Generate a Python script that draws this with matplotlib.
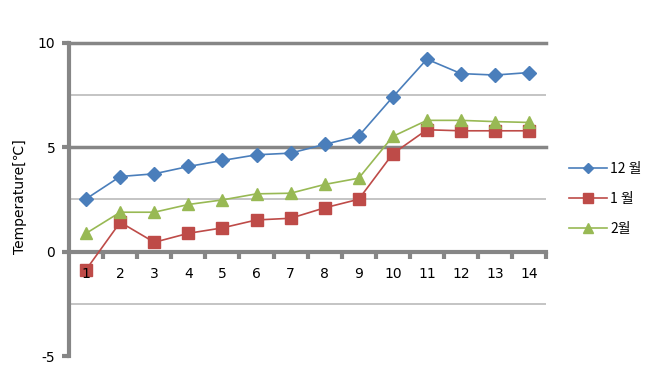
import matplotlib.pyplot as plt
from matplotlib.ticker import MultipleLocator, FixedLocator

plt.rcParams['font.family'] = ['DejaVu Sans', 'Noto Sans CJK KR']
plt.rcParams['axes.unicode_minus'] = False

# data
days = ['1', '2', '3', '4', '5', '6', '7', '8', '9', '10', '11', '12', '13', '14']
dec = [2.53, 3.6, 3.73, 4.08, 4.37, 4.64, 4.72, 5.14, 5.54, 7.41, 9.22, 8.53, 8.46, 8.58]
jan = [-0.86, 1.41, 0.45, 0.88, 1.14, 1.52, 1.6, 2.1, 2.51, 4.69, 5.84, 5.79, 5.79, 5.79]
feb = [0.88, 1.89, 1.89, 2.26, 2.48, 2.77, 2.8, 3.22, 3.52, 5.52, 6.29, 6.29, 6.23, 6.19]
labels = ['12 월', '1 월', '2월']

grey = '#868686'
fig = plt.figure(figsize=(6.58, 3.9), dpi=100)
ax = fig.add_axes([0.105, 0.087, 0.725, 0.803])

x = list(range(len(days)))

# gridlines first so the series sit on top
for v in [-2.5, 2.5, 7.5]:
    ax.axhline(v, color='#bfbfbf', lw=1.3, zorder=1)
for v in [5, 10]:
    ax.axhline(v, color=grey, lw=2.5, zorder=1, clip_on=False)

ax.plot(x, dec, color='#4a7ebb', marker='D', ms=7, lw=1.2, label=labels[0], zorder=3)
ax.plot(x, jan, color='#be4b48', marker='s', ms=9, lw=1.2, label=labels[1], zorder=3)
ax.plot(x, feb, color='#98b954', marker='^', ms=9, lw=1.2, label=labels[2], zorder=3)

ax.set_xlim(-0.5, len(days) - 0.5)
ax.set_ylim(-5, 10)

for s in ['top', 'right']:
    ax.spines[s].set_visible(False)
ax.spines['left'].set_color(grey)
ax.spines['left'].set_linewidth(3)
ax.spines['bottom'].set_position(('data', 0))
ax.spines['bottom'].set_color(grey)
ax.spines['bottom'].set_linewidth(3)
ax.spines['bottom'].set_zorder(2)

ax.yaxis.set_major_locator(MultipleLocator(5))
ax.tick_params(axis='y', direction='out', length=5, width=3, color=grey,
               labelsize=10, pad=5)

ax.set_xticks(x)
ax.set_xticklabels(days)
ax.xaxis.set_minor_locator(FixedLocator([i + 0.5 for i in x]))
ax.tick_params(axis='x', which='major', length=0, labelsize=10, pad=11)
ax.tick_params(axis='x', which='minor', direction='out', length=5, width=3, color=grey)
ax.xaxis.set_zorder(4)  # category labels drawn over the markers

ax.set_ylabel('Temperature[℃]', fontsize=10,
              family=['DejaVu Sans', 'Noto Sans CJK KR'])
ax.yaxis.set_label_coords(-0.088, 0.51)

fig.legend(loc='center left', bbox_to_anchor=(0.845, 0.49), frameon=False,
           handlelength=2.8, labelspacing=1.15, handletextpad=0.2, markerscale=0.8,
           prop={'family': ['Noto Sans CJK KR', 'DejaVu Sans'], 'size': 10})

fig.savefig('out.png', dpi=100)
